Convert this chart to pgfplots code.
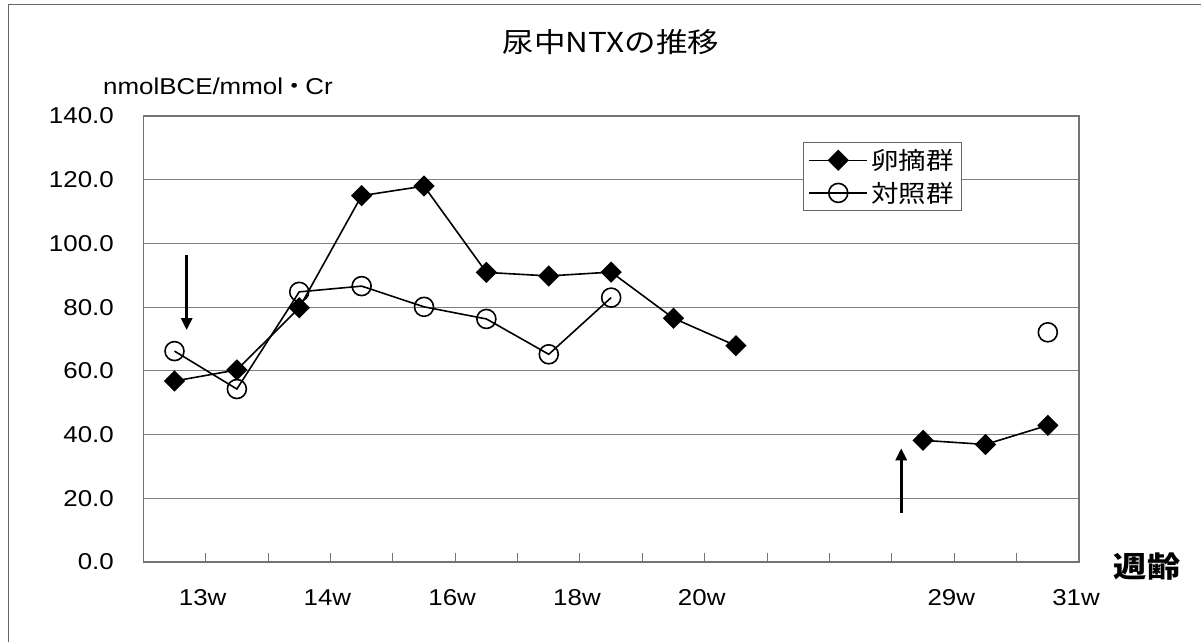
\documentclass[border=0pt]{standalone}
\usepackage{fontspec}
\setmainfont[FakeStretch=1.13]{Liberation Sans}
\newfontfamily\cjk[FakeStretch=1.15]{Noto Sans CJK JP}
\usepackage{pgfplots}
\pgfplotsset{compat=1.18}
\usepackage{pgfplotstable}
\usetikzlibrary{arrows.meta}

\pgfplotstableread{
x a b
0 56.8 66.2
1 60.3 54.3
2 79.8 84.8
3 115.0 86.6
4 118.0 80.1
5 90.9 76.3
6 89.8 65.2
7 91.0 83.0
8 76.5 nan
9 67.9 nan
10 nan nan
11 nan nan
12 38.2 nan
13 36.9 nan
14 42.9 72.1
}\ntxdata

\begin{document}
\begin{tikzpicture}
\useasboundingbox (0,0) rectangle (1201bp,-642bp);
\fill[white] (0,0) rectangle (1201bp,-642bp);
\draw[black!60, line width=1bp] (8bp,-700bp) -- (8bp,-4bp) -- (1250bp,-4bp);
\begin{axis}[
  at={(143.3bp,-562bp)}, anchor=south west,
  width=935.7bp, height=446bp, scale only axis,
  xmin=-0.5, xmax=14.5, ymin=0, ymax=140,
  axis line style={draw=black!55, line width=1.3bp},
  xtick={0.5,1.5,...,14.5},
  xticklabels={13w,,14w,,16w,,18w,,20w,,,,29w,,31w},
  xtick pos=lower, tick align=inside,
  major tick length=9bp,
  xtick style={draw=black!55, line width=1bp},
  ytick={0,20,...,140}, ytick style={draw=none},
  ymajorgrids, grid style={draw=black!50, line width=1bp},
  /pgf/number format/assume math mode=true,
  yticklabel style={/pgf/number format/fixed, /pgf/number format/fixed zerofill, /pgf/number format/precision=1, xshift=-26bp},
  xticklabel style={yshift=-24bp, xshift=-3bp},
  ticklabel style={font=\fontsize{23}{23}\selectfont},
  unbounded coords=jump,
  legend style={at={(0.705,0.9417)}, anchor=north west, draw=black!60, line width=1bp,
    font=\cjk\fontsize{24}{24}\selectfont, inner xsep=5bp, inner ysep=4bp,
    nodes={inner sep=3bp}, row sep=5bp},
  legend cell align=left,
  legend image code/.code={\draw[mark repeat=2,mark phase=2] plot coordinates {(0bp,0bp)(29bp,0bp)(58bp,0bp)};},
]
\addplot[black, line width=1.6bp, mark=square*, mark size=6.7bp, mark options={rotate=45, solid, fill=black}] table[x=x,y=a]{\ntxdata};
\addlegendentry{卵摘群}
\addplot[black, line width=1.6bp, mark=o, mark size=9.5bp, mark options={solid, line width=1.6bp}] table[x=x,y=b]{\ntxdata};
\addlegendentry{対照群}
\draw[line width=3bp, -{Triangle[length=12bp, width=11bp]}] (axis cs:0.195,96.4) -- (axis cs:0.195,72.8);
\draw[line width=3bp, -{Triangle[length=12bp, width=11bp]}] (axis cs:11.65,15.4) -- (axis cs:11.65,35.7);
\end{axis}
\node[font=\cjk\fontsize{27.5}{27.5}\selectfont] at (611bp,-42bp) {尿中NTXの推移};
\node[anchor=west, inner sep=0pt, font=\fontsize{23}{23}\selectfont] at (103bp,-86bp) {nmolBCE/mmol\kern-2bp{\cjk ・}\kern-2bp Cr};
\node[font=\cjk\bfseries\fontsize{29}{29}\selectfont] at (1147bp,-567bp) {週齢};
\end{tikzpicture}
\end{document}
